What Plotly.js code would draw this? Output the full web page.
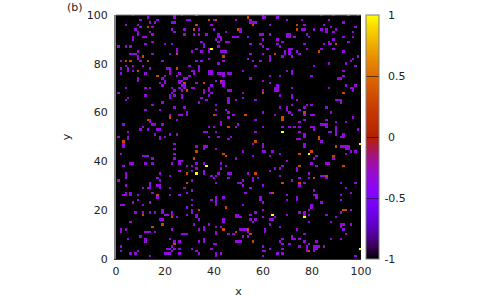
<!DOCTYPE html>
<html><head><meta charset="utf-8">
<script src="https://cdn.plot.ly/plotly-3.0.1.min.js"></script>
<style>html,body{margin:0;padding:0;background:#fff}#c{width:500px;height:300px}</style>
</head><body><div id="c"></div>
<script>
// value of each kind of cell; every other cell sits at the background value
const backgroundValue = -1, violetValue = -0.35, orangeValue = 0.3, yellowValue = 1;
const axisTicks = [0,20,40,60,80,100];
const colorbarTicks = [-1,-0.5,0,0.5,1];
const colorbarLabels = ['\u2009-1','\u2009-0.5','\u2009\u00a00','\u2009\u00a00.5','\u2009\u00a01'];
const yellowCells = [[39,86],[68,52],[37,38],[33,35],[79,43],[64,18],[77,17],[100,47],[100,4]];
const orangeCells = [[33,100],[38,98],[41,98],[33,96],[13,95],[32,94],[50,94],[25,84],[11,83],[44,83],[4,81],[6,81],[13,81],[25,78],[9,77],[17,75],[43,73],[28,72],[36,72],[29,69],[40,59],[22,58],[13,57],[46,54],
[95,100],[54,99],[56,96],[74,96],[50,94],[74,94],[90,88],[83,85],[65,84],[60,68],[93,68],[77,60],[53,59],[68,58],[68,57],[83,50],
[3,48],[33,44],[44,43],[45,42],[32,41],[29,35],[29,31],[17,26],[45,21],[34,20],[11,18],[23,17],[19,14],[15,13],[44,12],[49,11],[24,6],
[57,48],[83,49],[90,46],[80,44],[75,43],[89,42],[75,38],[93,38],[57,35],[86,34],[81,33],[75,31],[68,31],[64,27],[93,20],[94,20],[54,12],[55,10],[56,7],[79,3]];
const violetCells = [[7,100],[24,100],[27,100],[13,99],[24,99],[10,98],[17,98],[29,98],[30,98],[40,98],[49,98],[14,97],[16,97],[23,97],[24,97],[4,96],[9,96],[39,96],[10,95],[15,95],[8,94],[23,94],[28,94],[34,94],[40,94],
[14,93],[9,93],[24,93],[45,93],[9,92],[15,92],[28,92],[32,92],[34,92],[37,92],[42,92],[7,91],[11,91],[12,91],[42,91],[43,91],[48,91],[49,91],[50,91],[7,90],[41,90],[43,90],[15,89],[35,89],[45,89],[46,89],[42,89],
[12,88],[20,88],[23,88],[36,88],[1,87],[4,87],[6,87],[36,87],[42,87],[25,86],[33,86],[38,86],[9,85],[25,85],[31,85],[35,85],[38,85],[43,85],[44,85],[45,85],[6,84],[7,84],[8,84],[15,84],[22,84],[9,83],[9,82],[38,82],
[2,81],[10,81],[19,81],[33,81],[35,81],[44,81],[42,80],[4,79],[7,79],[11,79],[30,79],[34,79],[2,78],[5,78],[14,78],[21,78],[22,78],[34,78],[5,77],[7,77],[22,77],[31,77],[32,77],[34,77],[38,77],[39,77],
[2,76],[12,76],[22,76],[26,76],[32,76],[38,76],[39,76],[42,76],[43,76],[44,76],[46,76],[47,76],[20,75],[25,75],[30,75],[44,75],[9,74],[19,74],[28,74],[29,74],[9,73],[20,73],[26,73],[27,73],[41,73],[44,73],
[18,72],[20,72],[26,72],[33,72],[43,72],[44,72],[19,71],[27,71],[28,71],[39,71],[44,71],[4,70],[12,70],[14,70],[23,70],[26,70],[28,70],[31,70],[32,70],[38,70],[24,69],[27,69],[36,69],[38,69],[46,69],[47,69],
[1,68],[23,68],[36,68],[39,68],[12,67],[22,67],[24,67],[27,67],[38,67],[5,66],[22,66],[27,66],[35,66],[46,66],[4,65],[37,65],[46,65],[49,65],[19,64],[34,64],[46,64],[15,63],[41,63],[24,62],[28,62],
[12,61],[18,61],[41,61],[45,61],[29,60],[46,60],[22,59],[26,59],[27,59],[29,59],[41,59],[48,59],[46,58],[14,57],[25,57],[14,56],[43,56],[3,55],[15,55],[16,55],[19,55],[43,55],[50,55],[11,54],[38,54],[40,54],[49,54],
[10,53],[13,53],[17,53],[18,53],[5,52],[36,52],[37,52],[41,52],[16,51],[22,51],[25,51],[1,50],[5,50],[18,50],[20,50],[38,50],[42,50],[47,50],
[60,100],[84,100],[89,100],[99,100],[60,99],[61,99],[66,99],[55,98],[70,98],[76,98],[87,98],[55,97],[56,97],[57,97],[93,97],[63,96],[77,96],[85,96],[88,95],[98,95],[51,94],[76,94],[77,94],[81,94],[84,94],[86,94],[90,94],
[51,93],[86,93],[89,93],[97,93],[59,92],[60,92],[63,92],[70,92],[71,92],[78,92],[49,91],[50,91],[54,91],[70,91],[71,91],[73,91],[79,91],[93,91],[97,91],[60,90],[66,90],[89,90],[68,89],[87,89],[95,89],
[55,88],[59,88],[66,88],[77,88],[85,88],[87,88],[88,88],[60,87],[67,87],[62,86],[71,86],[72,86],[78,86],[84,86],[89,86],[69,85],[71,85],[74,85],[93,85],[55,84],[60,84],[69,84],[71,84],[75,84],[63,83],[68,83],[72,83],[99,83],
[54,82],[63,82],[97,82],[56,81],[59,81],[63,81],[96,81],[87,80],[94,80],[57,79],[81,79],[98,79],[52,77],[70,77],[72,77],[93,77],[72,76],[63,75],[67,75],[80,75],[93,75],[55,74],[91,74],[92,74],[60,73],[63,72],[66,71],[94,71],[98,71],
[65,70],[66,70],[72,70],[87,70],[96,70],[97,70],[60,69],[65,69],[66,69],[97,69],[52,68],[67,67],[72,67],[52,66],[72,66],[49,65],[57,65],[74,65],[90,65],[91,65],[92,65],[92,64],[72,63],[78,63],[80,63],
[67,62],[70,62],[77,62],[86,62],[70,61],[75,61],[60,60],[71,60],[88,60],[65,59],[72,59],[77,59],[80,59],[81,59],[97,58],[57,57],[77,57],[86,57],[75,56],[90,56],[94,56],[84,55],[85,55],[86,55],
[49,54],[60,54],[68,54],[71,54],[73,54],[75,54],[80,54],[81,54],[86,54],[90,54],[81,53],[90,53],[99,53],[57,52],[75,52],[87,52],[88,52],[90,52],[77,51],[90,51],[93,51],[77,50],[92,50],[93,50],[75,49],[83,49],
[1,50],[5,49],[18,49],[20,50],[3,47],[3,46],[24,47],[33,46],[36,46],[37,46],[36,45],[24,45],[41,45],[46,49],[2,43],[24,43],[11,42],[12,42],[13,42],[15,41],[24,41],[49,41],[26,40],[27,40],[26,39],[6,39],[7,39],[12,39],[15,39],[23,39],
[29,38],[31,38],[33,39],[36,39],[43,39],[45,38],[3,38],[33,37],[26,36],[31,36],[36,36],[43,37],[4,35],[4,34],[4,33],[18,35],[36,35],[42,35],[46,35],[47,35],[41,34],[39,34],[40,33],[22,34],[17,33],[1,32],[18,32],[31,32],[41,31],[50,31],[14,31],[46,33],
[4,30],[11,29],[13,29],[14,29],[14,30],[17,30],[18,30],[18,29],[22,29],[28,29],[15,27],[29,27],[31,28],[4,27],[3,26],[4,26],[6,27],[6,26],[9,26],[22,26],[26,26],[17,25],[9,24],[39,24],[31,24],[41,25],[41,24],[41,23],[41,22],[44,25],[7,23],[14,23],
[2,22],[3,22],[11,22],[19,20],[29,21],[31,22],[31,20],[31,19],[8,19],[11,19],[14,19],[16,19],[19,19],[20,18],[21,18],[23,19],[23,18],[25,17],[33,18],[33,17],[29,18],[49,18],[49,17],[44,16],[44,15],[18,16],[19,16],[6,15],[34,16],
[32,14],[36,13],[38,14],[41,13],[43,13],[2,12],[2,11],[4,12],[23,12],[12,11],[13,11],[14,11],[16,11],[27,10],[28,10],[29,10],[34,12],[41,11],[41,10],[46,10],[48,10],[36,12],[10,9],[5,8],[12,8],[12,7],[36,8],[36,7],[34,7],[22,8],[49,7],[50,7],[26,7],[24,7],[40,6],[41,6],
[2,5],[23,5],[26,4],[24,4],[21,4],[22,4],[31,4],[39,4],[2,3],[33,3],[23,3],[34,2],[6,2],[9,3],[8,2],[20,2],[21,2],[22,2],[26,2],[41,2],[41,1],[43,2],[14,1],
[60,47],[60,46],[56,47],[74,49],[77,47],[77,46],[83,50],[84,48],[92,50],[93,50],[92,46],[93,46],[94,46],[95,46],[94,45],[95,45],[96,44],[60,44],[61,44],[64,44],[52,44],[67,43],[63,42],[56,42],[94,43],[98,44],[81,41],[82,42],[89,41],[70,40],[49,41],
[86,39],[87,39],[80,39],[82,38],[68,38],[74,37],[74,36],[67,37],[65,37],[63,36],[79,35],[54,35],[67,34],[84,34],[85,34],[56,33],[56,32],[58,33],[52,32],[75,33],[72,32],[79,33],[86,33],[77,31],[50,31],[51,31],[92,31],[98,31],[60,30],[75,30],[55,29],[52,30],[94,29],
[81,28],[63,27],[53,27],[70,26],[81,26],[82,26],[92,26],[96,27],[74,25],[74,24],[59,25],[59,24],[70,24],[82,25],[84,23],[92,24],[60,23],[52,22],[80,22],[80,21],[79,20],[60,20],[92,19],[96,20],[75,19],[77,19],[77,18],[70,18],[60,17],[86,18],[55,18],[57,19],[50,18],[50,17],[51,17],[79,18],[90,17],
[65,17],[64,16],[63,16],[57,16],[55,16],[56,15],[79,15],[63,14],[88,15],[92,14],[93,14],[96,14],[92,13],[93,12],[67,13],[51,12],[52,12],[53,12],[54,11],[61,12],[61,11],[74,12],[77,10],[94,10],[52,9],[54,9],[72,9],[72,8],[73,8],[75,8],[88,8],[92,8],[68,8],
[49,7],[50,7],[51,7],[67,7],[68,6],[71,6],[77,7],[79,6],[82,7],[81,5],[82,5],[83,5],[81,4],[82,4],[85,5],[78,5],[78,4],[78,3],[75,5],[60,5],[60,3],[63,4],[61,3],[68,4],[66,2],[68,2],[60,1],[98,1],[81,3]];

const size = 101;
const axisValues = Array.from({length:size},(_,i)=>i);
const grid = axisValues.map(()=>axisValues.map(()=>backgroundValue));
violetCells.forEach(([x,y])=>grid[y][x]=violetValue);
orangeCells.forEach(([x,y])=>grid[y][x]=orangeValue);
yellowCells.forEach(([x,y])=>grid[y][x]=yellowValue);

const palette = [[0,'#000000'],[0.05,'#390050'],[0.1,'#51009e'],[0.15,'#6300cf'],[0.2,'#7202f3'],[0.25,'#8004ff'],[0.3,'#8c07f3'],[0.35,'#970bcf'],[0.4,'#a1109e'],[0.45,'#ab1750'],[0.5,'#b42000'],[0.55,'#bd2c00'],[0.6,'#c53700'],[0.65,'#cd4600'],[0.7,'#d55700'],[0.75,'#dd6b00'],[0.8,'#e48300'],[0.85,'#eb9d00'],[0.9,'#f2ba00'],[0.95,'#f9d900'],[1,'#ffff00']];

const font = {family:'DejaVu Sans', size:11, color:'#222'};
const axisBase = {range:[0,100], tickvals:axisTicks, showgrid:false, zeroline:false, ticks:'', showline:true, tickfont:font, automargin:false};

Plotly.newPlot('c',[{type:'heatmap', x:axisValues, y:axisValues, z:grid, zmin:-1, zmax:1, colorscale:palette, hoverinfo:'skip',
  colorbar:{x:1.019, xanchor:'left', y:0.5, yanchor:'middle', len:1, thickness:13, outlinecolor:'#808080', outlinewidth:1,
    tickvals:colorbarTicks, ticktext:colorbarLabels, ticks:'inside', ticklen:13, tickwidth:1, tickcolor:'rgba(0,0,0,0.55)', tickfont:font, xpad:0, ypad:0}}],
 {width:500, height:300, margin:{l:116,r:139,t:15,b:41}, paper_bgcolor:'#fff', plot_bgcolor:'#000', font:font, showlegend:false,
  xaxis:Object.assign({},axisBase,{linecolor:'#333', linewidth:1, ticklabelstandoff:2, title:{text:'x', font:font, standoff:10}}),
  yaxis:Object.assign({},axisBase,{linecolor:'#808080', linewidth:2, ticklabelstandoff:4, title:{text:'y', font:font, standoff:14}}),
  shapes:[{type:'line', xref:'paper', yref:'paper', x0:0, x1:1, y0:1, y1:1, line:{color:'#808080', width:1}}],
  annotations:[{text:'(b)', xref:'paper', yref:'paper', x:-0.209, y:1.065, xanchor:'left', yanchor:'top', showarrow:false, font:font}]},
 {displayModeBar:false, staticPlot:true});
</script></body></html>
